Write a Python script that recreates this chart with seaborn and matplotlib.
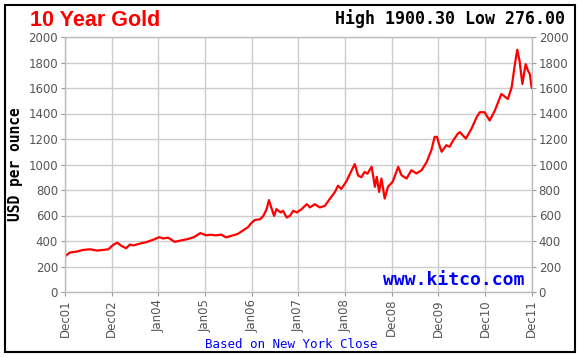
import matplotlib
matplotlib.use('Agg')
import matplotlib.pyplot as plt
import seaborn as sns
import pandas as pd
from matplotlib.patches import Rectangle

# position along the axis (0 = Dec01 ... 10 = Dec11) and close price
pos = [0.00, 0.04, 0.11, 0.25, 0.39, 0.54, 0.68, 0.82, 0.93, 1.03, 1.12, 1.21, 1.31,
       1.39, 1.46, 1.61, 1.75, 1.89, 2.02, 2.10, 2.21, 2.35, 2.49, 2.63, 2.76, 2.90,
       3.02, 3.13, 3.23, 3.35, 3.45, 3.56, 3.70, 3.81, 3.92, 3.99, 4.07, 4.18, 4.25,
       4.32, 4.37, 4.42, 4.48, 4.53, 4.62, 4.67, 4.75, 4.82, 4.89, 4.97, 5.07, 5.18,
       5.25, 5.35, 5.46, 5.57, 5.67, 5.78, 5.85, 5.92, 6.03, 6.14, 6.21, 6.28, 6.35,
       6.42, 6.48, 6.57, 6.64, 6.68, 6.73, 6.78, 6.85, 6.92, 7.02, 7.14, 7.21, 7.32,
       7.42, 7.53, 7.64, 7.75, 7.85, 7.92, 7.97, 8.01, 8.07, 8.17, 8.24, 8.32, 8.42,
       8.46, 8.59, 8.71, 8.82, 8.89, 8.99, 9.10, 9.21, 9.35, 9.49, 9.57, 9.64, 9.69,
       9.74, 9.80, 9.87, 9.92, 9.96, 10.00]
price = [280, 292, 310, 317, 330, 335, 325, 330, 335, 369, 387, 361, 343,
         372, 365, 380, 392, 410, 430, 420, 426, 393, 405, 415, 430, 462,
         445, 449, 444, 450, 428, 440, 455, 482, 508, 540, 565, 571, 597,
         650, 721, 663, 597, 650, 624, 637, 584, 597, 637, 624, 650, 689,
         663, 689, 663, 676, 729, 782, 834, 808, 868, 953, 1003, 913, 900,
         942, 928, 982, 825, 903, 785, 890, 733, 825, 864, 982, 916, 890,
         955, 930, 955, 1020, 1112, 1216, 1217, 1165, 1100, 1151, 1139, 1190, 1243,
         1254, 1203, 1281, 1371, 1410, 1410, 1345, 1423, 1553, 1514, 1605, 1787, 1900,
         1813, 1631, 1787, 1735, 1709, 1600]

xlabels = ['Dec01', 'Dec02', 'Jan04', 'Jan05', 'Jan06', 'Jan07', 'Jan08',
           'Dec08', 'Dec09', 'Dec10', 'Dec11']
yticks = [0, 200, 400, 600, 800, 1000, 1200, 1400, 1600, 1800, 2000]

df = pd.DataFrame({'pos': pos, 'price': price})

sns.set_style('white')
fig = plt.figure(figsize=(5.8, 3.57), dpi=100)
ax = fig.add_axes([65/580, 65/357, 466.7/580, 255/357])

sns.lineplot(df, x='pos', y='price', color='#ff0000', linewidth=1.6, ax=ax)

ax.set_xlim(0, 10)
ax.set_ylim(0, 2000)
ax.set_xticks(range(len(xlabels)))
ax.set_xticklabels(xlabels, rotation=90)
ax.set_yticks(yticks)
ax.grid(True, color='#cccccc', linewidth=1)
ax.set_axisbelow(True)
for s in ax.spines.values():
    s.set_color('#bbbbbb')
    s.set_linewidth(1)
ax.tick_params(axis='both', labelsize=8.5, labelcolor='#555555', color='#999999',
               length=3, width=0.8, pad=2, direction='out')
ax.tick_params(axis='y', left=True, right=True, labelright=True)
ax.tick_params(axis='x', bottom=True)
ax.set_xlabel('')
ax.set_ylabel('USD per ounce', family='DejaVu Sans Mono', fontweight='bold',
              fontsize=10.5, color='black', labelpad=4)

ax.text(0.985, 0.01, 'www.kitco.com', transform=ax.transAxes, ha='right', va='bottom',
        family='DejaVu Sans Mono', fontweight='bold', fontsize=13, color='#0000ff')

fig.text(30/580, 1 - 20/357, '10 Year Gold', color='#ff0000', fontweight='bold',
         family='Liberation Sans', fontsize=15.5, va='center', ha='left')
fig.text(565/580, 1 - 19/357, 'High 1900.30 Low 276.00', color='black',
         fontweight='bold', family='DejaVu Sans Mono', fontsize=12,
         va='center', ha='right')
fig.text(0.503, 1 - 344/357, 'Based on New York Close', color='#0000ff',
         family='DejaVu Sans Mono', fontsize=9, va='center', ha='center')

fig.patches.append(Rectangle((5/580, 5/357), 570/580, 347/357, transform=fig.transFigure,
                             fill=False, edgecolor='black', linewidth=1.5))

fig.savefig('out.png', dpi=100)
